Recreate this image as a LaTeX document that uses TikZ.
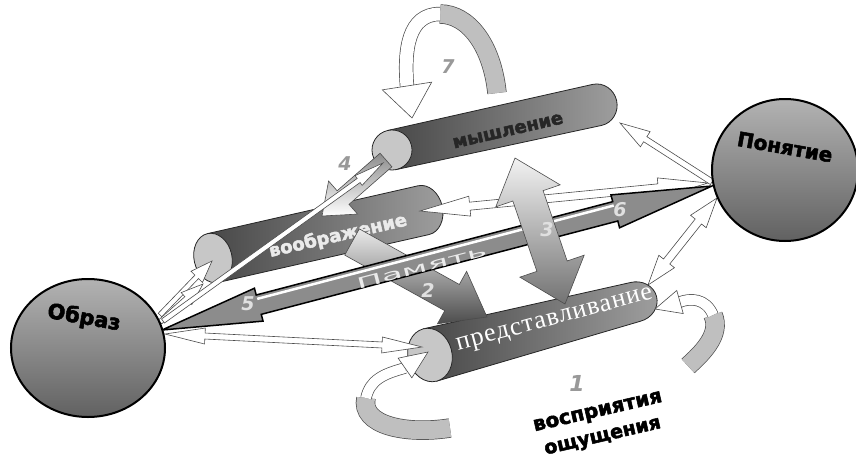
\documentclass[tikz,border=0pt]{standalone}
\usepackage{fontspec}
\setmainfont{Liberation Serif}
\newfontfamily\heavy{DejaVu Sans}
\newfontfamily\blackf[BoldFeatures={FakeBold=2.5}]{DejaVu Sans}
\newfontfamily\serifc[LetterSpace=4]{Liberation Serif}
\usetikzlibrary{calc,shapes.geometric}

\newcommand\myarrow[6]{%
  \coordinate (ah) at ($(#3)!#6!(#2)$);
  \path[#1] ($(#2)!#4!90:(#3)$) -- ($(ah)!#4!90:(#3)$) -- ($(ah)!#5!90:(#3)$) -- (#3)
    -- ($(ah)!#5!-90:(#3)$) -- ($(ah)!#4!-90:(#3)$) -- ($(#2)!#4!-90:(#3)$) -- cycle;}
\newcommand\mydarrow[6]{%
  \coordinate (ah) at ($(#3)!#6!(#2)$);
  \coordinate (ag) at ($(#2)!#6!(#3)$);
  \path[#1] (#2) -- ($(ag)!#5!90:(#3)$) -- ($(ag)!#4!90:(#3)$) -- ($(ah)!#4!90:(#3)$)
    -- ($(ah)!#5!90:(#3)$) -- (#3) -- ($(ah)!#5!-90:(#3)$) -- ($(ah)!#4!-90:(#3)$)
    -- ($(ag)!#4!-90:(#3)$) -- ($(ag)!#5!-90:(#3)$) -- cycle;}
\newcommand\myhead[4]{%
  \path[#1] ($(#2)!#4!90:(#3)$) -- (#3) -- ($(#2)!#4!-90:(#3)$) -- cycle;}
\newcommand\mycyl[6]{%
  \begin{scope}[shift={#1}, rotate=#2]
    \path[cylbody] (0,-#4) -- (#3,-#5) arc[start angle=-90, end angle=90, x radius=#6, y radius=#5] -- (0,#4) -- cycle;
    \path[cylcap] (0,0) ellipse[x radius=#6, y radius=#4];
  \end{scope}}

\tikzset{
  hollow/.style={fill=white, draw=black!70, line width=0.6pt, line join=miter},
  cylbody/.style={left color=black!72, right color=black!38, draw=black!85, line width=0.8pt},
  cylcap/.style={fill=black!22, draw=black!85, line width=0.8pt},
  ball/.style={ellipse, draw=black, line width=2pt, top color=black!30, bottom color=black!62},
  balltext/.style={font=\blackf\bfseries\fontsize{21pt}{24pt}\selectfont, text=black},
  num/.style={font=\heavy\bfseries\itshape\fontsize{19pt}{22pt}\selectfont},
  ribbon/.style={draw=black!70, line width=0.7pt, double=black!25, double distance=#1},
  wribbon/.style={draw=black!70, line width=0.7pt, double=white, double distance=#1},
}

\begin{document}
\begin{tikzpicture}[x=1pt,y=-1pt]
\useasboundingbox (0,0) rectangle (856,463);

% named end points
\coordinate (o1a) at (160,315); \coordinate (v1a) at (212,261);
\coordinate (o1b) at (160,322); \coordinate (v1b) at (203,284);
\coordinate (o2) at (163,321);  \coordinate (m2) at (383,163);
\coordinate (o3) at (165,334);  \coordinate (p3) at (422,347);
\coordinate (n1) at (712,182);  \coordinate (m1) at (620,123);
\coordinate (v6) at (420,211);  \coordinate (n6) at (708,183);
\coordinate (n7) at (717,198);  \coordinate (p7) at (648,285);
\coordinate (a2s) at (352,242); \coordinate (a2e) at (487,317);
\coordinate (a3s) at (515,158); \coordinate (a3e) at (565,304);
\coordinate (a4s) at (386,160); \coordinate (a4e) at (322,216);
\coordinate (bl) at (162,330);  \coordinate (br) at (712,186);

% cylinders voobrazhenie and myshlenie
\mycyl{(213,258)}{12.8}{216}{25}{25}{19}
\node[font=\blackf\bfseries\fontsize{18pt}{20pt}\selectfont, text=black!8, rotate=13] (t-voob) at (338,236) {воображение};
\mycyl{(392,150)}{12.4}{210}{20}{21}{20}
\node[font=\blackf\bfseries\fontsize{18pt}{20pt}\selectfont, text=black!85, rotate=13] (t-mysh) at (508,131) {мышление};

% loop 7
\draw[ribbon=18pt] (497,93) .. controls (492,45) and (468,14) .. (440,14);
\draw[wribbon=13pt] (440,14) .. controls (408,14) and (404,50) .. (407,86);
\coordinate (l7b) at (407,86); \coordinate (l7t) at (412,118);
\myhead{hollow}{l7b}{l7t}{25pt}
\node[num, text=black!40] (n-7) at (448,67) {7};

% cylinder predstavlivanie
\mycyl{(430,355)}{14.5}{212}{27}{20}{22}
\node[font=\serifc\fontsize{26pt}{28pt}\selectfont, text=white, rotate=15] (t-pred) at (555,321) {представливание};

% arrow 4
\myarrow{top color=black!45, bottom color=white, draw=black!70, line width=0.6pt}{a4s}{a4e}{9pt}{22pt}{28pt}
\node[num, text=black!40] (n-4) at (345,164) {4};

% hollow arrows from Obraz
\myarrow{hollow}{o1a}{v1a}{2.5pt}{8pt}{22pt}
\myarrow{hollow}{o1b}{v1b}{2.5pt}{8pt}{22pt}
\myarrow{hollow}{o2}{m2}{2.5pt}{6pt}{30pt}

% arrow 2
\myarrow{top color=black!8, bottom color=black!70, draw=black!70, line width=0.6pt}{a2s}{a2e}{15pt}{30pt}{40pt}
\node[num, text=black!12] (n-2) at (428,290) {2};

% voobrazhenie <-> ponyatie
\mydarrow{hollow}{v6}{n6}{4pt}{10pt}{50pt}

% memory bar
\mydarrow{fill=black!45, draw=black, line width=1.5pt}{bl}{br}{10pt}{17pt}{100pt}
\coordinate (b1) at ($(bl)!100pt!(br)$);
\coordinate (b2) at ($(br)!100pt!(bl)$);
\draw[white, line width=2.5pt] ($(b1)!6pt!90:(b2)$) -- ($(b2)!6pt!-90:(b1)$);
\node[font=\heavy\fontsize{15pt}{15pt}\selectfont, text=black!8, rotate=14.5, xscale=2.3] (t-pam) at (422,267) {Память};
\node[num, text=black!12] (n-5) at (248,304) {5};
\node[num, text=black!12] (n-6) at (620,210) {6};

% arrow 3
\mydarrow{top color=black!5, bottom color=black!55, draw=black!70, line width=0.6pt}{a3s}{a3e}{16pt}{34pt}{40pt}
\node[num, text=black!12] (n-3) at (547,230) {3};

% remaining hollow arrows
\mydarrow{hollow}{o3}{p3}{3pt}{8pt}{40pt}
\myarrow{hollow}{n1}{m1}{3pt}{9pt}{30pt}
\mydarrow{hollow}{n7}{p7}{4pt}{10pt}{30pt}

% loops at predstavlivanie
\draw[ribbon=18pt] (450,428) .. controls (405,435) and (360,425) .. (366,398);
\draw[wribbon=10pt] (366,398) .. controls (370,380) and (383,374) .. (405,368);
\coordinate (l1b) at (405,368); \coordinate (l1t) at (428,352);
\myhead{hollow}{l1b}{l1t}{12pt}
\draw[ribbon=18pt] (688,366) .. controls (700,355) and (722,335) .. (713,315);
\draw[wribbon=10pt] (713,315) .. controls (706,298) and (690,298) .. (680,302);
\coordinate (l2b) at (680,302); \coordinate (l2t) at (655,309);
\myhead{hollow}{l2b}{l2t}{12pt}

% balls
\node[ball, minimum width=154pt, minimum height=138pt] (obraz) at (88,348) {};
\node[balltext, rotate=-10] (t-obraz) at (84,318) {Образ};
\node[ball, minimum width=146pt, minimum height=142pt] (ponyatie) at (785,170) {};
\node[balltext, font=\blackf\bfseries\fontsize{20pt}{24pt}\selectfont, rotate=-10] (t-pon) at (785,147) {Понятие};

% bottom labels
\node[num, text=black!40, font=\heavy\bfseries\itshape\fontsize{22pt}{24pt}\selectfont] (n-1) at (577,383) {1};
\node[font=\blackf\bfseries\fontsize{20pt}{21pt}\selectfont, rotate=13] (t-vos) at (598,413) {восприятия};
\node[font=\blackf\bfseries\fontsize{19pt}{21pt}\selectfont, rotate=13] (t-osh) at (603,438) {ощущения};
\end{tikzpicture}
\end{document}
